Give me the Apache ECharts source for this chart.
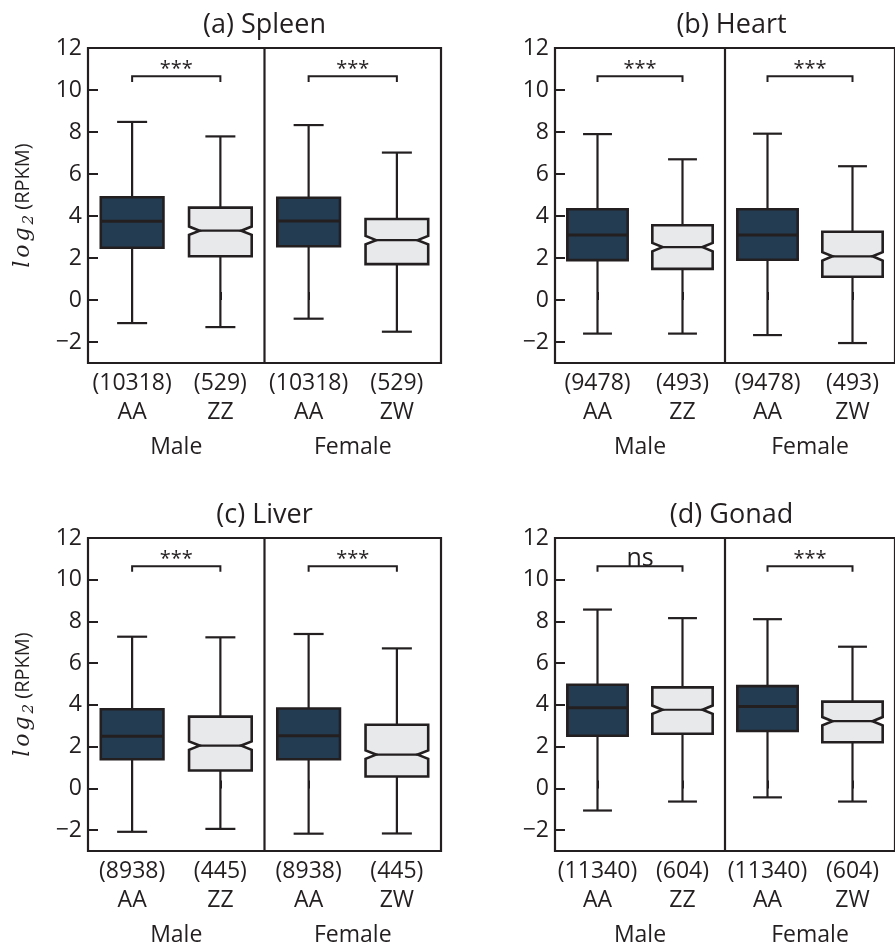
<!DOCTYPE html>
<html>
<head>
<meta charset="utf-8">
<script src="https://cdn.jsdelivr.net/npm/echarts@6/dist/echarts.min.js"></script>
<style>
  html, body { margin: 0; padding: 0; background: #ffffff; }
  #chart { width: 895px; height: 950px; }
</style>
</head>
<body>
<div id="chart"></div>
<script>
// ---------------- DATA ----------------
const panelTitles = ['(a) Spleen', '(b) Heart', '(c) Liver', '(d) Gonad'];
const groupLabels = ['Male', 'Female'];
const genotypes = ['AA', 'ZZ', 'AA', 'ZW'];
const yTicks = [-2, 0, 2, 4, 6, 8, 10, 12];

const spleenCounts = [10318, 529, 10318, 529];
const heartCounts  = [9478, 493, 9478, 493];
const liverCounts  = [8938, 445, 8938, 445];
const gonadCounts  = [11340, 604, 11340, 604];

// [lower whisker, Q1, median, Q3, upper whisker] for AA(M), ZZ(M), AA(F), ZW(F)
const spleenStats = [[-1.10, 2.49, 3.75, 4.89, 8.48], [-1.29, 2.08, 3.30, 4.40, 7.79], [-0.89, 2.56, 3.76, 4.87, 8.33], [-1.51, 1.71, 2.85, 3.86, 7.02]];
const heartStats  = [[-1.60, 1.90, 3.10, 4.32, 7.90], [-1.60, 1.48, 2.52, 3.56, 6.70], [-1.67, 1.92, 3.10, 4.32, 7.92], [-2.05, 1.11, 2.08, 3.25, 6.37]];
const liverStats  = [[-2.08, 1.40, 2.50, 3.79, 7.27], [-1.94, 0.86, 2.05, 3.44, 7.24], [-2.17, 1.40, 2.52, 3.83, 7.40], [-2.16, 0.57, 1.62, 3.05, 6.71]];
const gonadStats  = [[-1.06, 2.52, 3.86, 4.97, 8.57], [-0.63, 2.62, 3.77, 4.84, 8.16], [-0.43, 2.75, 3.92, 4.90, 8.11], [-0.63, 2.21, 3.22, 4.16, 6.79]];

// notch half-height (log2 units) for each box
const notchHalf = [0, 0.2, 0, 0.2];

// significance labels: [Male AA vs ZZ, Female AA vs ZW]
const spleenSig = ['***', '***'];
const heartSig  = ['***', '***'];
const liverSig  = ['***', '***'];
const gonadSig  = ['ns', '***'];

// ---------------- STYLE / LAYOUT ----------------
const INK = '#231f20';
const DARK = '#243c52';
const LIGHT = '#e8e9eb';
const FONT = '"Open Sans", "Noto Sans", sans-serif';
const SERIF = '"DejaVu Serif", "Liberation Serif", serif';
const Y_MIN = -3, Y_MAX = 12;
const BRACKET_TOP = 10.65, BRACKET_LEG = 10.38;

const panels = [
  { title: panelTitles[0], counts: spleenCounts, stats: spleenStats, sig: spleenSig, left: 88,  top: 48,  width: 353, ylabel: true },
  { title: panelTitles[1], counts: heartCounts,  stats: heartStats,  sig: heartSig,  left: 555, top: 48,  width: 350, ylabel: false },
  { title: panelTitles[2], counts: liverCounts,  stats: liverStats,  sig: liverSig,  left: 88,  top: 538, width: 353, ylabel: true },
  { title: panelTitles[3], counts: gonadCounts,  stats: gonadStats,  sig: gonadSig,  left: 555, top: 538, width: 350, ylabel: false }
];
const PLOT_H = 315;

const grids = [], xAxes = [], yAxes = [], series = [], graphics = [];

function seg(x1, y1, x2, y2, w) {
  return { type: 'line', shape: { x1: x1, y1: y1, x2: x2, y2: y2 }, style: { stroke: INK, lineWidth: w, fill: null } };
}

const mathStyle = { fontFamily: SERIF, fontStyle: 'italic', fontSize: 22, color: INK, padding: [0, 3, 0, 0] };

panels.forEach((p, k) => {
  grids.push({
    left: p.left, top: p.top, width: p.width, height: PLOT_H,
    show: true, borderColor: INK, borderWidth: 2.2, backgroundColor: 'transparent'
  });

  xAxes.push({
    gridIndex: k, type: 'category',
    data: genotypes.map((g, i) => '(' + p.counts[i] + ')\n' + g),
    axisLine: { show: false },
    axisTick: { show: true, inside: true, alignWithLabel: true, length: 8, lineStyle: { color: INK, width: 2 } },
    axisLabel: { interval: 0, fontFamily: FONT, fontSize: 23, lineHeight: 29, color: INK, margin: 6 },
    splitLine: { show: false }
  });
  xAxes.push({
    gridIndex: k, type: 'category', position: 'bottom',
    data: groupLabels,
    axisLine: { show: false }, axisTick: { show: false },
    axisLabel: { interval: 0, fontFamily: FONT, fontSize: 23, lineHeight: 29, color: INK, margin: 70 },
    splitLine: { show: false }
  });

  yAxes.push({
    gridIndex: k, type: 'value', min: Y_MIN, max: Y_MAX,
    axisLine: { show: false },
    axisTick: { show: true, inside: true, length: 10, customValues: yTicks, lineStyle: { color: INK, width: 2 } },
    axisLabel: {
      customValues: yTicks, fontFamily: FONT, fontSize: 23, color: INK, margin: 6,
      formatter: v => (v < 0 ? '\u2212' + Math.abs(v) : String(v))
    },
    splitLine: { show: false },
    name: p.ylabel ? '{m|l}{m|o}{m|g}{s|2} {n|(RPKM)}' : '',
    nameLocation: 'middle', nameRotate: 90, nameGap: 51,
    nameTextStyle: {
      color: INK, fontFamily: FONT, fontSize: 20,
      rich: {
        m: mathStyle,
        s: { fontFamily: SERIF, fontStyle: 'italic', fontSize: 15, color: INK, padding: [12, 0, 0, 0] },
        n: { fontFamily: FONT, fontSize: 20, color: INK }
      }
    }
  });

  // boxes
  const boxRows = p.stats.map((s, i) => [i, s[0], s[1], s[2], s[3], s[4], notchHalf[i], i % 2]);
  series.push({
    type: 'custom', xAxisIndex: 2 * k, yAxisIndex: k, silent: true,
    data: boxRows,
    renderItem: (params, api) => {
      const i = api.value(0);
      const low = api.value(1), q1 = api.value(2), med = api.value(3), q3 = api.value(4), high = api.value(5);
      const n = api.value(6), light = api.value(7) === 1;
      const band = api.size([1, 0])[0];
      const cx = api.coord([i, med])[0];
      const y = v => api.coord([i, v])[1];
      const hw = band * 0.355, cap = band * 0.17, ind = band * 0.12;
      const L = cx - hw, R = cx + hw;
      const children = [
        seg(cx, y(low), cx, y(high), 2.2),
        seg(cx - cap, y(high), cx + cap, y(high), 2.2),
        seg(cx - cap, y(low), cx + cap, y(low), 2.2)
      ];
      let pts, mL = L, mR = R;
      if (n > 0) {
        pts = [[L, y(q3)], [R, y(q3)], [R, y(med + n)], [R - ind, y(med)], [R, y(med - n)], [R, y(q1)],
               [L, y(q1)], [L, y(med - n)], [L + ind, y(med)], [L, y(med + n)]];
        mL = L + ind; mR = R - ind;
      } else {
        pts = [[L, y(q3)], [R, y(q3)], [R, y(q1)], [L, y(q1)]];
      }
      children.push({ type: 'polygon', shape: { points: pts }, style: { fill: light ? LIGHT : DARK, stroke: INK, lineWidth: 2.6 } });
      children.push(seg(mL, y(med), mR, y(med), light ? 2.2 : 3));
      return { type: 'group', children: children };
    }
  });

  // divider between Male and Female
  series.push({
    type: 'custom', xAxisIndex: 2 * k, yAxisIndex: k, silent: true,
    data: [[1, 2]],
    renderItem: (params, api) => {
      const a = api.coord([api.value(0), Y_MAX]);
      const b = api.coord([api.value(1), Y_MIN]);
      const x = (a[0] + b[0]) / 2;
      return seg(x, a[1], x, b[1], 2.2);
    }
  });

  // significance brackets
  series.push({
    type: 'custom', xAxisIndex: 2 * k, yAxisIndex: k, silent: true,
    data: [[0, 1], [2, 3]],
    renderItem: (params, api) => {
      const l = api.coord([api.value(0), BRACKET_TOP]);
      const r = api.coord([api.value(1), BRACKET_TOP]);
      const legY = api.coord([api.value(0), BRACKET_LEG])[1];
      const txt = p.sig[params.dataIndex];
      const stars = txt.indexOf('*') >= 0;
      return {
        type: 'group',
        children: [
          { type: 'polyline', shape: { points: [[l[0], legY], [l[0], l[1]], [r[0], r[1]], [r[0], legY]] },
            style: { stroke: INK, lineWidth: 2, fill: null } },
          { type: 'text', x: (l[0] + r[0]) / 2, y: stars ? l[1] + 3 : l[1] + 5,
            style: { text: txt, textAlign: 'center', textVerticalAlign: 'bottom',
                     font: (stars ? '20px ' : '25px ') + FONT, fill: INK } }
        ]
      };
    }
  });

  graphics.push({
    type: 'text', x: p.left + 353 / 2, y: p.top - 23,
    style: { text: p.title, textAlign: 'center', textVerticalAlign: 'middle', font: '27px ' + FONT, fill: INK }
  });
});

const chart = echarts.init(document.getElementById('chart'), null, { renderer: 'canvas' });
chart.setOption({
  animation: false,
  backgroundColor: '#ffffff',
  grid: grids,
  xAxis: xAxes,
  yAxis: yAxes,
  series: series,
  graphic: graphics
});
</script>
</body>
</html>
